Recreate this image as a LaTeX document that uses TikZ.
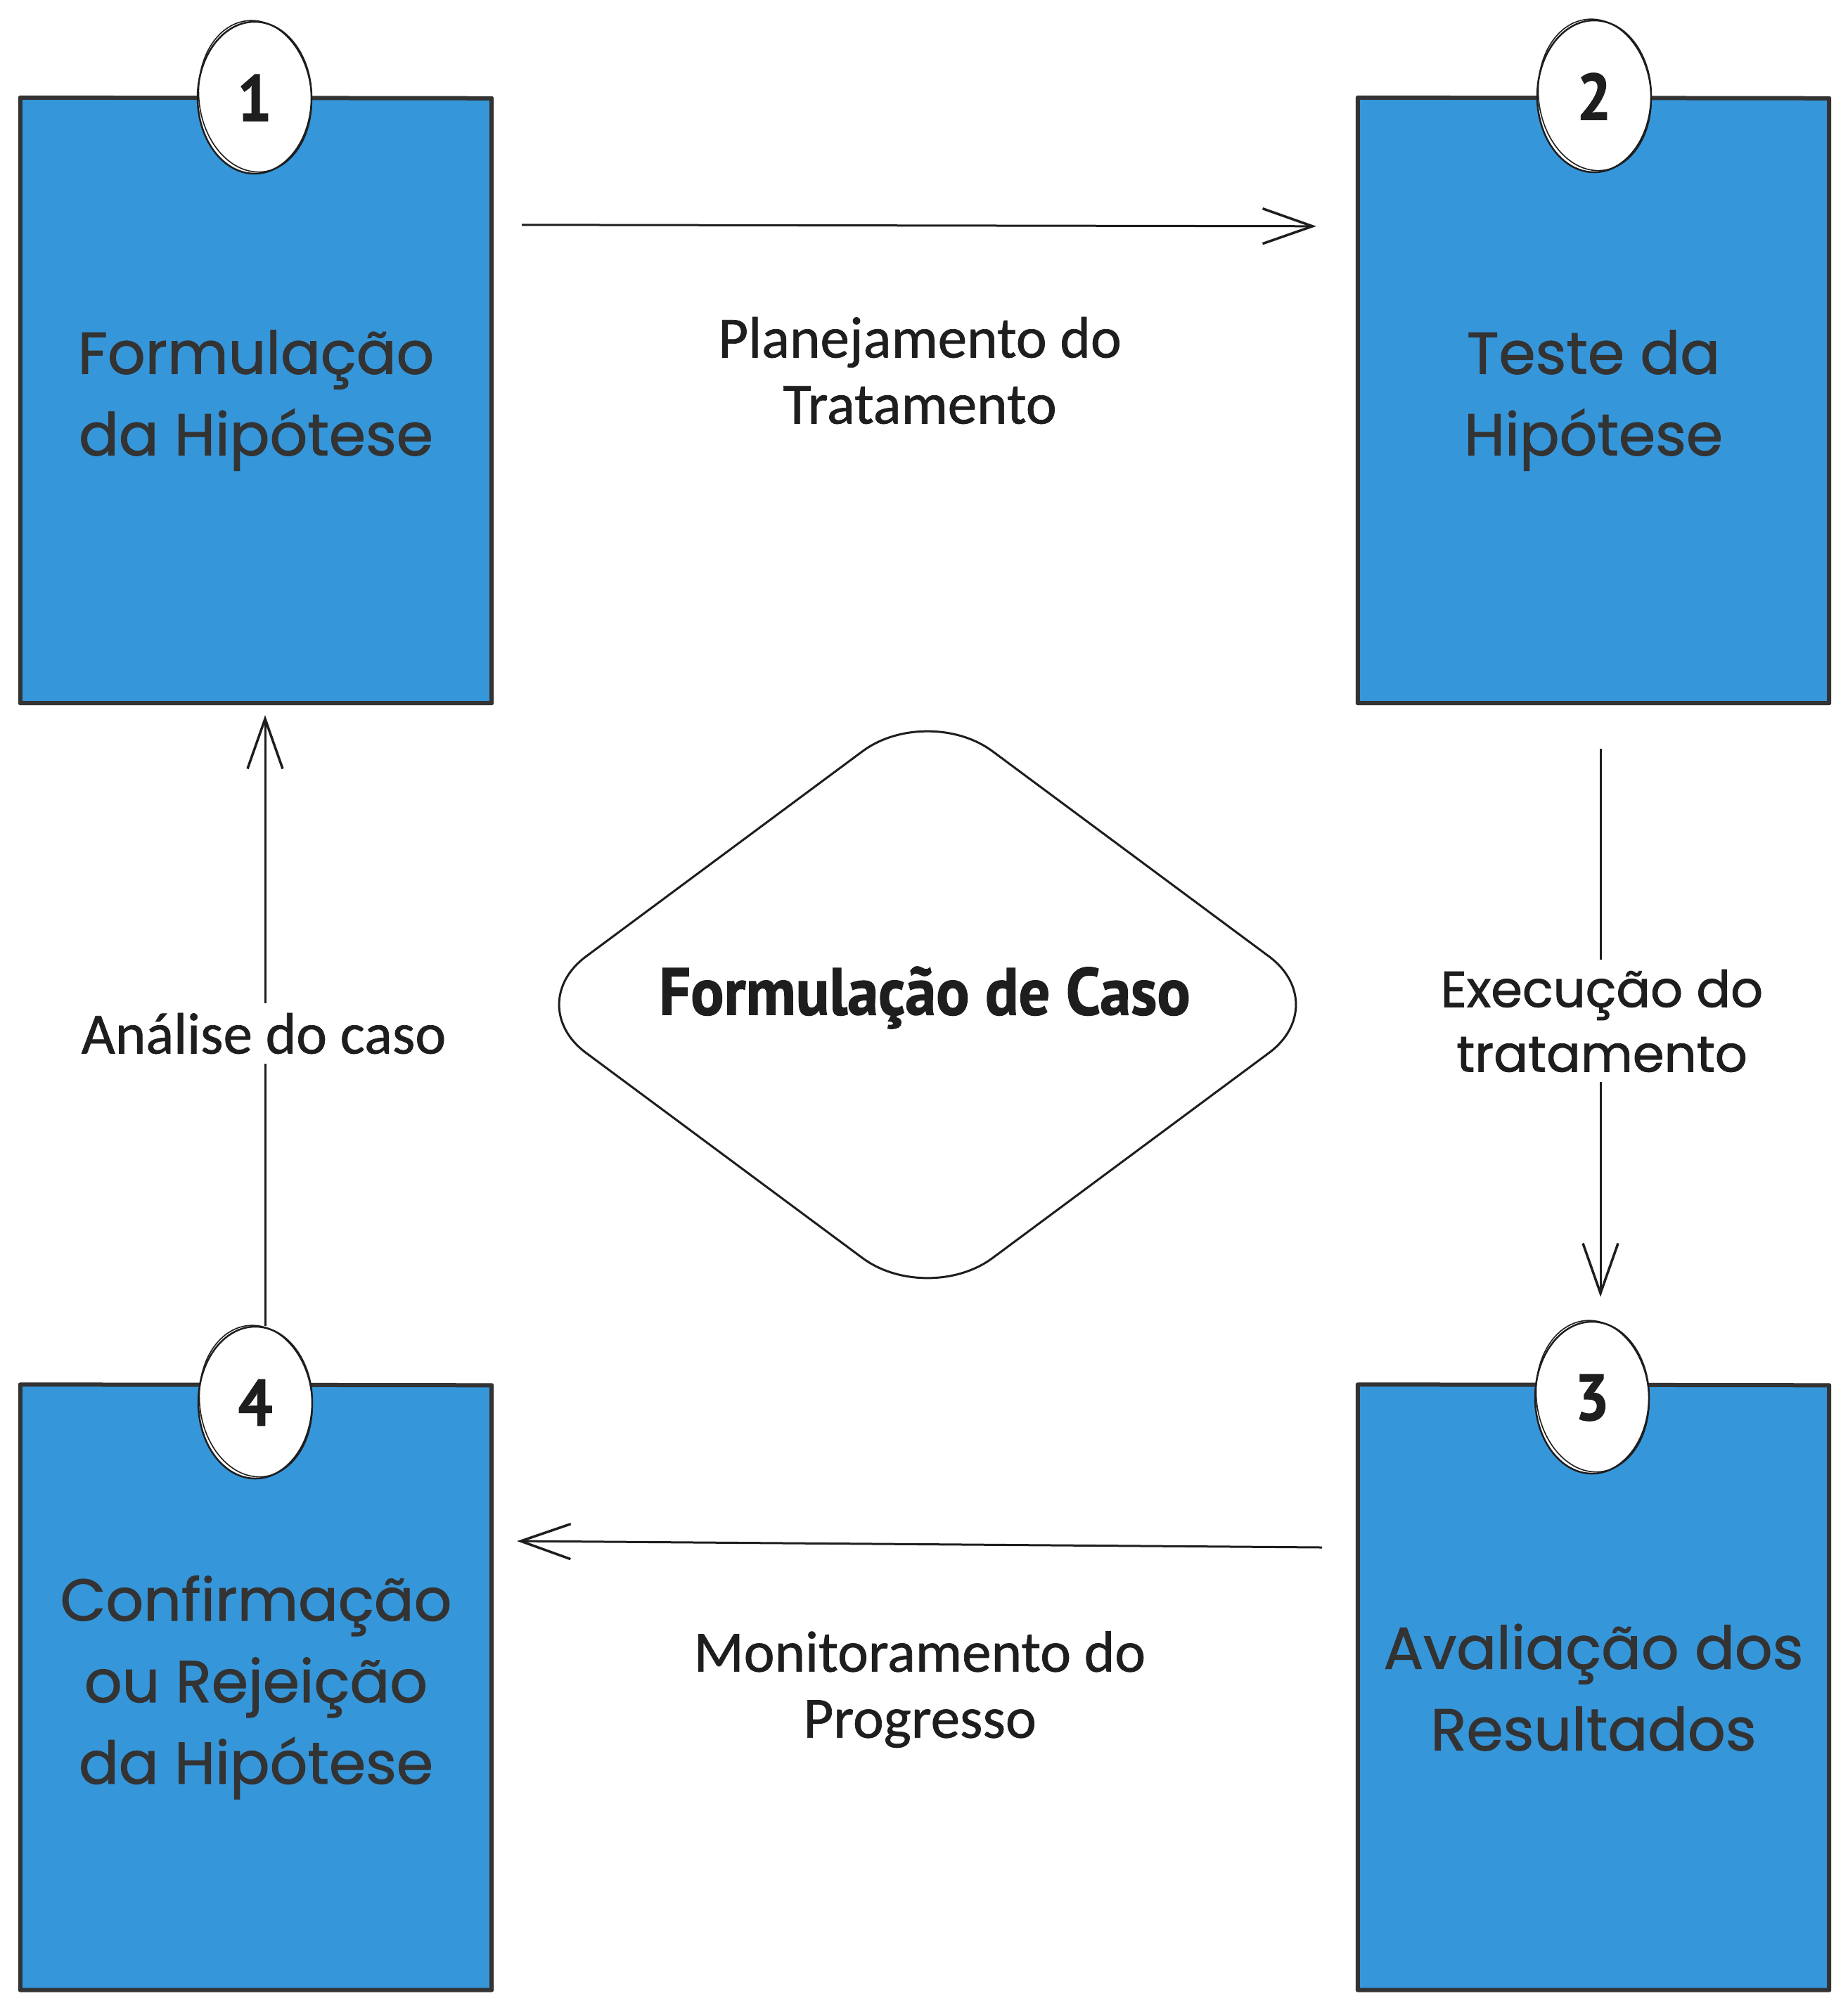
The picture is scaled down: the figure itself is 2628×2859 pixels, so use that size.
\documentclass[tikz,border=0pt]{standalone}
\usepackage{fontspec}
\usetikzlibrary{arrows.meta,shapes.geometric}
\newfontfamily\handfont{Poppins}[FakeBold=1.2]
\newfontfamily\labfont{Carlito}[FakeBold=0.8]
\newfontfamily\heavyfont{PT Sans}[FakeStretch=0.93, BoldFeatures={FakeBold=1.2}]
\definecolor{boxblue}{RGB}{54,150,218}
\definecolor{ink}{HTML}{1E1E1E}
\definecolor{boxink}{HTML}{333333}
\newcommand\sketchcard[1]{%
  \draw[edge] ([shift={(-1pt,1pt)}]#1.north west) -- ([shift={(1pt,0pt)}]#1.north east)
    -- ([shift={(1pt,-1pt)}]#1.south east) -- ([shift={(-1pt,-1pt)}]#1.south west) -- cycle;}
\newcommand\sketchbadge[1]{%
  \draw[badgeline, rotate around={6:(#1.center)}] ([shift={(1pt,2pt)}]#1.center) ellipse [x radius=80pt, y radius=108pt];}
\begin{document}
\begin{tikzpicture}[x=1pt,y=-1pt,
  card/.style={fill=boxblue, minimum width=668pt, minimum height=859pt, inner sep=0pt,
    align=center, text=boxink, font=\handfont\fontsize{84}{116}\selectfont},
  edge/.style={draw=boxink, line width=6pt, line join=round, line cap=round},
  badge/.style={ellipse, draw=ink, fill=white, line width=2.5pt, minimum width=162pt,
    minimum height=216pt, inner sep=0pt, text=ink, font=\heavyfont\bfseries\fontsize{93}{93}\selectfont},
  badgeline/.style={draw=ink, line width=1.6pt},
  conn/.style={draw=ink, line width=3pt, -{Straight Barb[length=71pt,width=50pt,line width=3.5pt]}},
  lab/.style={text=ink, align=center, font=\labfont\fontsize{83}{94}\selectfont},
  handlab/.style={text=ink, align=center, font=\handfont\fontsize{72}{92}\selectfont},
  gap/.style={fill=white, inner xsep=4pt, inner ysep=14pt},
  casetext/.style={text=ink, font=\heavyfont\bfseries\fontsize{95}{95}\selectfont},
  diamondline/.style={draw=ink, line width=3pt, rounded corners=115pt, line join=round}
]
\fill[white] (0,0) rectangle (2628,2859);
\useasboundingbox (0,0) rectangle (2628,2859);

% cards
\node[card] (b1) at (364,569.5) {Formulação\\da Hipótese};
\node[card] (b2) at (2266,569.5) {Teste da\\Hipótese};
\node[card] (b3) at (2266,2400) {Avaliação dos\\Resultados};
\node[card] (b4) at (364,2400) {Confirmação\\ou Rejeição\\da Hipótese};
\sketchcard{b1}
\sketchcard{b2}
\sketchcard{b3}
\sketchcard{b4}

% central diamond
\draw[diamondline] (1319,1000) -- (1897,1429) -- (1319,1858) -- (741,1429) -- cycle;
\node[casetext] (case) at (1315,1419) {Formulação de Caso};

% badges
\node[badge] (n1) at (362,139) {1};
\node[badge] (n2) at (2267,137) {2};
\node[badge] (n3) at (2264,1988) {3};
\node[badge] (n4) at (363,1995) {4};
\sketchbadge{n1}
\sketchbadge{n2}
\sketchbadge{n3}
\sketchbadge{n4}

% connectors
\draw[conn] ([shift={(44pt,-180pt)}]b1.north east) -- ([shift={(-60pt,-182pt)}]b2.north west);
\draw[conn] ([shift={(10pt,-66pt)}]b2.south) -- ([shift={(12pt,34pt)}]n3.north);
\draw[conn] ([shift={(-52pt,199pt)}]b3.west) -- ([shift={(37pt,208pt)}]b4.east);
\draw[conn] ([shift={(14pt,0pt)}]n4.north) -- ([shift={(13pt,-18pt)}]b1.south);

% labels
\node[lab] (l12) at (1308,527) {Planejamento do\\Tratamento};
\node[handlab, gap] (l23) at (2278,1452) {Execução do\\tratamento};
\node[lab] (l34) at (1308,2403) {Monitoramento do\\Progresso};
\node[lab, gap] (l41) at (375,1470) {Análise do caso};
\end{tikzpicture}
\end{document}
